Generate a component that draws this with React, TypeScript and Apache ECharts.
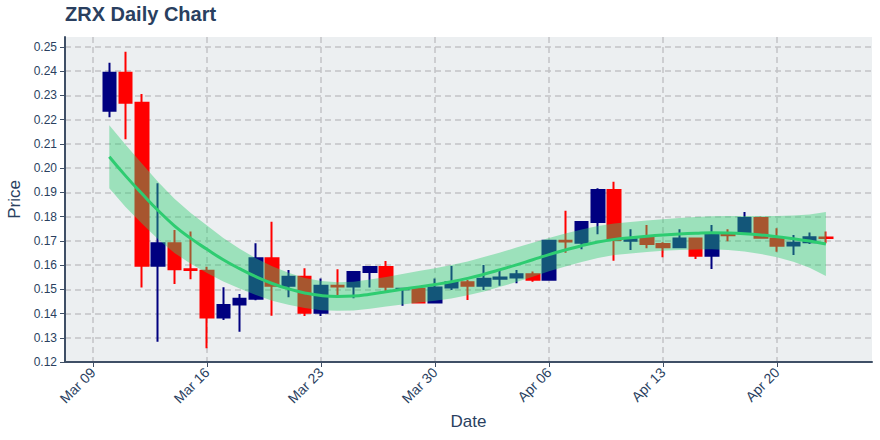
import React, { useEffect, useRef } from "react";
import * as echarts from "echarts";

// ---- data ----
const dates = [
  "2020-03-10", "2020-03-11", "2020-03-12", "2020-03-13", "2020-03-14", "2020-03-15", "2020-03-16",
  "2020-03-17", "2020-03-18", "2020-03-19", "2020-03-20", "2020-03-21", "2020-03-22", "2020-03-23",
  "2020-03-24", "2020-03-25", "2020-03-26", "2020-03-27", "2020-03-28", "2020-03-29", "2020-03-30",
  "2020-03-31", "2020-04-01", "2020-04-02", "2020-04-03", "2020-04-04", "2020-04-05", "2020-04-06",
  "2020-04-07", "2020-04-08", "2020-04-09", "2020-04-10", "2020-04-11", "2020-04-12", "2020-04-13",
  "2020-04-14", "2020-04-15", "2020-04-16", "2020-04-17", "2020-04-18", "2020-04-19", "2020-04-20",
  "2020-04-21", "2020-04-22", "2020-04-23",
];
const opens = [
  0.2237, 0.2394, 0.227, 0.1597, 0.169, 0.1583, 0.1577, 0.1384, 0.1437, 0.1461, 0.1628, 0.1515,
  0.1552, 0.1403, 0.1515, 0.1512, 0.1571, 0.1592, 0.15, 0.1502, 0.1445, 0.1507, 0.1529, 0.1515,
  0.1543, 0.1549, 0.1562, 0.1539, 0.17, 0.1692, 0.1778, 0.191, 0.17, 0.1715, 0.1687, 0.1673,
  0.171, 0.1638, 0.1724, 0.1731, 0.1794, 0.171, 0.1681, 0.1694, 0.1714,
];
const closes = [
  0.2394, 0.227, 0.1597, 0.169, 0.1583, 0.158, 0.1384, 0.1435, 0.1461, 0.1628, 0.1515, 0.1552,
  0.1403, 0.1515, 0.1512, 0.1571, 0.1592, 0.1511, 0.1502, 0.1445, 0.1507, 0.1529, 0.1515, 0.1543,
  0.1549, 0.1562, 0.1539, 0.17, 0.1697, 0.1778, 0.191, 0.1703, 0.1706, 0.1687, 0.1673, 0.171,
  0.1638, 0.1724, 0.1723, 0.1794, 0.1713, 0.168, 0.1692, 0.1715, 0.1712,
];
const lows = [
  0.221, 0.2119, 0.1507, 0.1284, 0.1522, 0.1541, 0.1257, 0.1373, 0.1325, 0.1455, 0.1391, 0.1467,
  0.139, 0.139, 0.1467, 0.1463, 0.1507, 0.1486, 0.1432, 0.1443, 0.1443, 0.1497, 0.1456, 0.1497,
  0.1515, 0.1525, 0.1531, 0.1535, 0.1651, 0.1665, 0.1727, 0.1618, 0.1662, 0.1669, 0.1632, 0.1673,
  0.1625, 0.1584, 0.1698, 0.1728, 0.171, 0.1655, 0.1642, 0.1687, 0.169,
];
const highs = [
  0.2435, 0.248, 0.2306, 0.1938, 0.1745, 0.1738, 0.1593, 0.1508, 0.1481, 0.169, 0.1779, 0.158,
  0.1587, 0.1545, 0.1583, 0.1573, 0.1596, 0.1617, 0.1503, 0.1505, 0.1545, 0.1596, 0.1538, 0.16,
  0.158, 0.158, 0.1573, 0.1702, 0.1824, 0.178, 0.1917, 0.1944, 0.1748, 0.1765, 0.1694, 0.1748,
  0.1712, 0.1765, 0.1748, 0.1819, 0.1799, 0.1752, 0.1724, 0.1734, 0.1738,
];
const trend = [
  0.2047, 0.1968, 0.1895, 0.1825, 0.1762, 0.171, 0.1665, 0.1622, 0.1585, 0.1552, 0.1524, 0.1502,
  0.1485, 0.1474, 0.147, 0.1472, 0.148, 0.149, 0.15, 0.151, 0.152, 0.1531, 0.1545, 0.1562,
  0.1581, 0.1601, 0.1622, 0.1643, 0.1662, 0.168, 0.1695, 0.1706, 0.1713, 0.1719, 0.1724, 0.1728,
  0.1731, 0.1733, 0.1732, 0.1729, 0.1724, 0.1717, 0.1709, 0.1699, 0.1687,
];
const bandUpper = [
  0.2177, 0.2096, 0.2019, 0.1943, 0.1874, 0.1815, 0.1763, 0.1712, 0.1667, 0.1628, 0.1595, 0.1568,
  0.1547, 0.1534, 0.1529, 0.1531, 0.154, 0.1551, 0.1563, 0.1575, 0.1587, 0.16, 0.1615, 0.1633,
  0.1652, 0.1672, 0.1692, 0.1712, 0.173, 0.1747, 0.1761, 0.1771, 0.1778, 0.1784, 0.1789, 0.1794,
  0.1798, 0.1801, 0.1802, 0.1802, 0.1802, 0.1802, 0.1804, 0.1809, 0.1819,
];
const bandLower = [
  0.1917, 0.184, 0.1771, 0.1707, 0.165, 0.1605, 0.1567, 0.1532, 0.1503, 0.1476, 0.1453, 0.1436,
  0.1423, 0.1414, 0.1411, 0.1413, 0.142, 0.1429, 0.1437, 0.1445, 0.1453, 0.1462, 0.1475, 0.1491,
  0.151, 0.153, 0.1552, 0.1574, 0.1594, 0.1613, 0.1629, 0.1641, 0.1648, 0.1654, 0.1659, 0.1662,
  0.1664, 0.1665, 0.1662, 0.1656, 0.1646, 0.1632, 0.1614, 0.1589, 0.1555,
];
const xTickDates = ["2020-03-09", "2020-03-16", "2020-03-23", "2020-03-30", "2020-04-06", "2020-04-13", "2020-04-20"];
const xTickLabels = ["Mar 09", "Mar 16", "Mar 23", "Mar 30", "Apr 06", "Apr 13", "Apr 20"];
const yTicks = [0.12, 0.13, 0.14, 0.15, 0.16, 0.17, 0.18, 0.19, 0.2, 0.21, 0.22, 0.23, 0.24, 0.25];

const ORIGIN = Date.parse("2020-03-09");
const dayOf = (d: string) => Math.round((Date.parse(d) - ORIGIN) / 86400000);

const TXT = "#2a3f5f";
const AXIS = "#3f4f66";
const FONT = "Liberation Sans, Arial, sans-serif";

export default function App() {
  const ref = useRef<HTMLDivElement>(null);
  useEffect(() => {
    if (!ref.current) return;
    const chart = echarts.init(ref.current, undefined, { renderer: "svg" });
    const xs = dates.map(dayOf);
    const tickDays = xTickDates.map(dayOf);
    const candles = xs.map((x, i) => [x, opens[i], closes[i], lows[i], highs[i]]);
    const trendData = xs.map((x, i) => [x, trend[i]]);
    const gridLine = { show: true, lineStyle: { type: [6, 4] as any, color: "#c2c4c6", width: 1.5 } };

    chart.setOption({
      animation: false,
      textStyle: { fontFamily: FONT },
      title: {
        text: "ZRX Daily Chart",
        left: 65,
        top: 4,
        padding: 0,
        textStyle: { fontSize: 20, fontWeight: "bold", color: TXT, fontFamily: FONT },
      },
      grid: {
        left: 65,
        right: 8,
        top: 37,
        bottom: 78,
        containLabel: false,
        outerBoundsMode: "none",
        show: true,
        backgroundColor: "#eceff1",
        borderWidth: 0,
      },
      xAxis: {
        type: "value",
        min: -1.72,
        max: 47.83,
        name: "Date",
        nameLocation: "middle",
        nameGap: 50,
        nameTextStyle: { fontSize: 17, color: TXT, fontFamily: FONT },
        axisLine: { show: true, onZero: false, lineStyle: { color: AXIS, width: 2 } },
        axisTick: { show: true, customValues: tickDays, length: 5, lineStyle: { color: AXIS, width: 1 } },
        axisLabel: {
          customValues: tickDays,
          rotate: 45,
          margin: 8,
          fontSize: 14,
          color: TXT,
          formatter: (v: number) => xTickLabels[tickDays.indexOf(Math.round(v))] ?? "",
        },
        splitLine: gridLine,
      },
      yAxis: {
        type: "value",
        min: 0.12,
        max: 0.2541,
        name: "Price",
        nameLocation: "middle",
        nameGap: 42,
        nameTextStyle: { fontSize: 17, color: TXT, fontFamily: FONT },
        axisLine: { show: true, onZero: false, lineStyle: { color: AXIS, width: 2 } },
        axisTick: { show: true, customValues: yTicks, length: 5, lineStyle: { color: AXIS, width: 1 } },
        axisLabel: {
          customValues: yTicks,
          margin: 8,
          fontSize: 12,
          color: TXT,
          formatter: (v: number) => v.toFixed(2),
        },
        splitLine: gridLine,
      },
      series: [
        {
          type: "candlestick",
          data: candles,
          barWidth: 13,
          z: 2,
          itemStyle: {
            color: "#000080",
            color0: "#ff0000",
            borderColor: "#000080",
            borderColor0: "#ff0000",
            borderWidth: 2,
          },
        },
        {
          type: "custom",
          data: [[xs[0], bandUpper[0]]],
          silent: true,
          z: 5,
          renderItem: (_params: any, api: any) => {
            const pts: number[][] = [];
            for (let i = 0; i < xs.length; i++) pts.push(api.coord([xs[i], bandUpper[i]]));
            for (let i = xs.length - 1; i >= 0; i--) pts.push(api.coord([xs[i], bandLower[i]]));
            return {
              type: "polygon",
              z2: 10,
              shape: { points: pts },
              style: { fill: "rgba(46,204,113,0.42)", stroke: "none" },
            };
          },
        },
        {
          type: "line",
          data: trendData,
          symbol: "none",
          smooth: true,
          silent: true,
          z: 6,
          lineStyle: { color: "#2ecc71", width: 3 },
        },
      ],
    });
    return () => chart.dispose();
  }, []);
  return <div ref={ref} style={{ width: 880, height: 440, position: "absolute", left: 0, top: 0 }} />;
}
